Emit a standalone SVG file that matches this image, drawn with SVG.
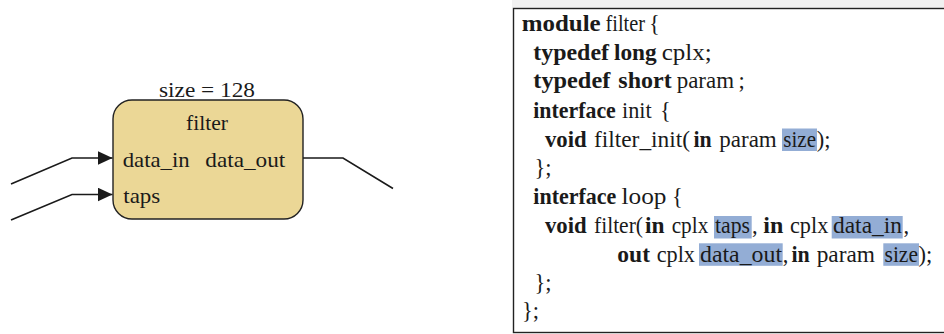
<svg xmlns="http://www.w3.org/2000/svg" width="944" height="334" viewBox="0 0 944 334">
<defs>
<style>
text{font-family:"Liberation Serif","Times New Roman",serif;fill:#1a1a1a}
.t{font-size:22px}
.c{font-size:22.5px}
.b{font-weight:bold}
.hl{fill:#93add5}
.wire{fill:none;stroke:#1a1a1a;stroke-width:1.6}
</style>
<marker id="ah" viewBox="0 0 10 10" refX="10" refY="5" markerWidth="15" markerHeight="14" markerUnits="userSpaceOnUse" orient="auto" preserveAspectRatio="none">
<path d="M0,0 L10,5 L0,10 Z" fill="#1a1a1a"/>
</marker>
</defs>
<rect width="944" height="334" fill="#ffffff"/>

<g id="connectors">
<path class="wire" d="M11,184 L72,158 L112.5,158" marker-end="url(#ah)"/>
<path class="wire" d="M11,220 L72,194.5 L112.5,194.5" marker-end="url(#ah)"/>
<path class="wire" d="M303,158 L343,158 L393,188.5"/>
</g>

<g id="filter-node">
<text class="t" x="207" y="96.5" text-anchor="middle" textLength="96" lengthAdjust="spacingAndGlyphs">size = 128</text>
<rect x="113" y="100" width="190" height="119" rx="19" ry="19" fill="#ebd796" stroke="#222" stroke-width="1.4"/>
<text class="t" x="207" y="130" text-anchor="middle" textLength="42" lengthAdjust="spacingAndGlyphs">filter</text>
<text class="t" x="122.7" y="166.5" textLength="67" lengthAdjust="spacingAndGlyphs">data_in</text>
<text class="t" x="205.3" y="166.5" textLength="80" lengthAdjust="spacingAndGlyphs">data_out</text>
<text class="t" x="123.3" y="203" textLength="37" lengthAdjust="spacingAndGlyphs">taps</text>
</g>

<g id="code-panel">
<rect x="512" y="0" width="432" height="8" fill="#f1f1f1"/>
<rect x="513.5" y="8.5" width="440" height="324" fill="#ffffff" stroke="#222" stroke-width="1.4"/>
<rect class="hl" x="782" y="128.5" width="35" height="22.5"/>
<rect class="hl" x="714" y="216" width="37.7" height="22.5"/>
<rect class="hl" x="831.7" y="216" width="71" height="22.5"/>
<rect class="hl" x="699" y="243.3" width="83.7" height="22.5"/>
<rect class="hl" x="883.3" y="243.3" width="35.7" height="22.5"/>

<text class="c" y="31"><tspan class="b" x="521.7" textLength="79" lengthAdjust="spacingAndGlyphs">module</tspan><tspan x="605.5" textLength="39.5" lengthAdjust="spacingAndGlyphs">filter</tspan><tspan x="649">{</tspan></text>
<text class="c" y="59.5"><tspan class="b" x="533.3" textLength="75.7" lengthAdjust="spacingAndGlyphs">typedef</tspan><tspan class="b" x="614" textLength="42.7" lengthAdjust="spacingAndGlyphs">long</tspan><tspan x="661.7" textLength="50" lengthAdjust="spacingAndGlyphs">cplx;</tspan></text>
<text class="c" y="88.2"><tspan class="b" x="533.3" textLength="77" lengthAdjust="spacingAndGlyphs">typedef</tspan><tspan class="b" x="618.3" textLength="53.4" lengthAdjust="spacingAndGlyphs">short</tspan><tspan x="676.7" textLength="57.3" lengthAdjust="spacingAndGlyphs">param</tspan><tspan x="738.5">;</tspan></text>
<text class="c" y="117.5"><tspan class="b" x="533.3" textLength="82.5" lengthAdjust="spacingAndGlyphs">interface</tspan><tspan x="622" textLength="29.7" lengthAdjust="spacingAndGlyphs">init</tspan><tspan x="660">{</tspan></text>
<text class="c" y="146.5"><tspan class="b" x="545" textLength="41.7" lengthAdjust="spacingAndGlyphs">void</tspan><tspan x="594" textLength="96" lengthAdjust="spacingAndGlyphs">filter_init(</tspan><tspan class="b" x="693.5" textLength="18.2" lengthAdjust="spacingAndGlyphs">in</tspan><tspan x="719.3" textLength="57.4" lengthAdjust="spacingAndGlyphs">param</tspan><tspan x="783.3" textLength="32.7" lengthAdjust="spacingAndGlyphs">size</tspan><tspan x="816.7">);</tspan></text>
<text class="c" y="175"><tspan x="534.5">};</tspan></text>
<text class="c" y="203.5"><tspan class="b" x="533.3" textLength="83" lengthAdjust="spacingAndGlyphs">interface</tspan><tspan x="621.5" textLength="45" lengthAdjust="spacingAndGlyphs">loop</tspan><tspan x="672">{</tspan></text>
<text class="c" y="233"><tspan class="b" x="545" textLength="41.7" lengthAdjust="spacingAndGlyphs">void</tspan><tspan x="594" textLength="49" lengthAdjust="spacingAndGlyphs">filter(</tspan><tspan class="b" x="645" textLength="19.5" lengthAdjust="spacingAndGlyphs">in</tspan><tspan x="671.7" textLength="36.6" lengthAdjust="spacingAndGlyphs">cplx</tspan><tspan x="715" textLength="35" lengthAdjust="spacingAndGlyphs">taps</tspan><tspan x="752">,</tspan><tspan class="b" x="763.3" textLength="20" lengthAdjust="spacingAndGlyphs">in</tspan><tspan x="790" textLength="38.3" lengthAdjust="spacingAndGlyphs">cplx</tspan><tspan x="833" textLength="69" lengthAdjust="spacingAndGlyphs">data_in</tspan><tspan x="903.5">,</tspan></text>
<text class="c" y="261.5"><tspan class="b" x="617.3" textLength="32.7" lengthAdjust="spacingAndGlyphs">out</tspan><tspan x="656.7" textLength="38.3" lengthAdjust="spacingAndGlyphs">cplx</tspan><tspan x="700" textLength="82" lengthAdjust="spacingAndGlyphs">data_out</tspan><tspan x="782.8">,</tspan><tspan class="b" x="791.5" textLength="18.3" lengthAdjust="spacingAndGlyphs">in</tspan><tspan x="816.7" textLength="58.3" lengthAdjust="spacingAndGlyphs">param</tspan><tspan x="884.5" textLength="33.5" lengthAdjust="spacingAndGlyphs">size</tspan><tspan x="918.5">);</tspan></text>
<text class="c" y="290"><tspan x="534.5">};</tspan></text>
<text class="c" y="318"><tspan x="522">};</tspan></text>
</g>
</svg>
